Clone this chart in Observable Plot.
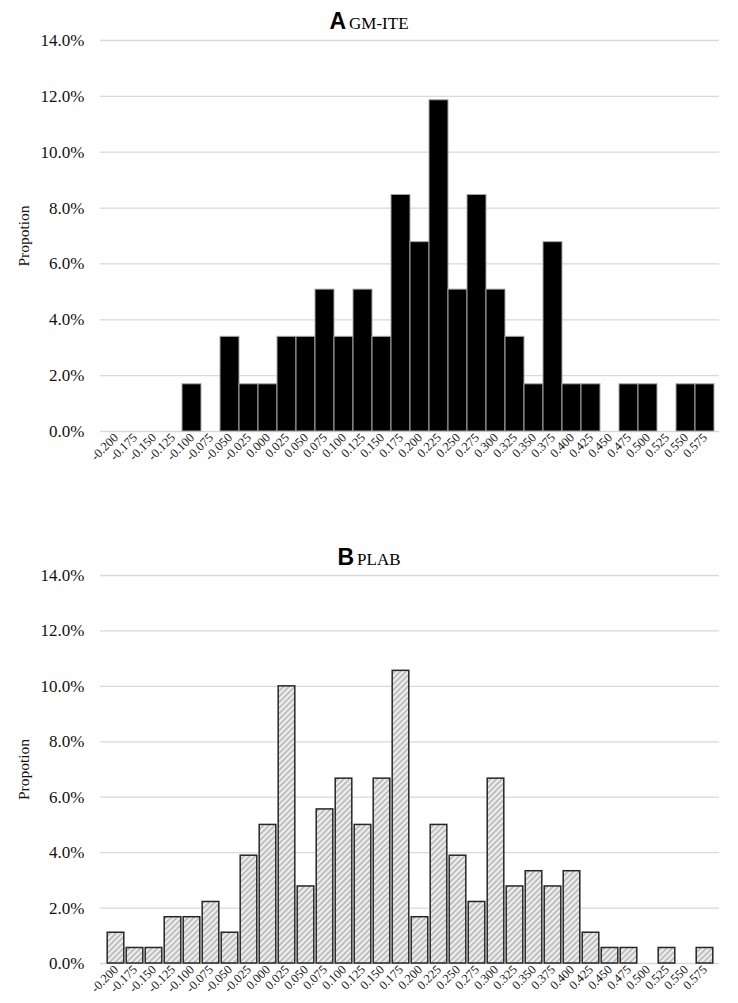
<!DOCTYPE html>
<html>
<head>
<meta charset="utf-8">
<script src="https://cdn.jsdelivr.net/npm/d3@7"></script>
<script src="https://cdn.jsdelivr.net/npm/@observablehq/plot@0.6"></script>
<style>
  html, body { margin: 0; padding: 0; background: #fff; }
  body { width: 738px; height: 1003px; position: relative; overflow: hidden; }
  .title { position: absolute; left: 0; width: 738px; text-align: center; color: #000; white-space: nowrap; }
  .title .letter { font-family: "Liberation Sans", Arial, sans-serif; font-weight: bold; font-size: 23px; }
  .title .name { font-family: "Liberation Serif", "Times New Roman", serif; font-size: 17px; margin-left: 3px; }
  .chart { position: absolute; left: 0; }
  .chart svg, .chart svg text { font-family: "Liberation Serif", "Times New Roman", serif !important; }
  .chart g[aria-label="y-axis tick label"] { font-size: 17px !important; }
  .chart g[aria-label="y-axis label"] { font-size: 15.5px !important; }
  .chart g[aria-label="x-axis tick label"] { font-size: 12.5px !important; }
</style>
</head>
<body>
<div class="title" id="titleA" style="top:8px;"><span class="letter">A</span><span class="name">GM-ITE</span></div>
<div class="chart" id="chartA" style="top:32px;"></div>
<div class="title" id="titleB" style="top:544px;"><span class="letter">B</span><span class="name">PLAB</span></div>
<div class="chart" id="chartB" style="top:567px;"></div>
<script>
// Bin labels (score bins)
const bins = ["-0.200","-0.175","-0.150","-0.125","-0.100","-0.075","-0.050","-0.025","0.000","0.025","0.050","0.075","0.100","0.125","0.150","0.175","0.200","0.225","0.250","0.275","0.300","0.325","0.350","0.375","0.400","0.425","0.450","0.475","0.500","0.525","0.550","0.575"];

// Panel A: GM-ITE proportions (%)
const gmIte = [0,0,0,0,1.69,0,3.39,1.69,1.69,3.39,3.39,5.08,3.39,5.08,3.39,8.47,6.78,11.86,5.08,8.47,5.08,3.39,1.69,6.78,1.69,1.69,0,1.69,1.69,0,1.69,1.69];

// Panel B: PLAB proportions (%)
const plab = [1.11,0.56,0.56,1.67,1.67,2.22,1.11,3.89,5.00,10.00,2.78,5.56,6.67,5.00,6.67,10.56,1.67,5.00,3.89,2.22,6.67,2.78,3.33,2.78,3.33,1.11,0.56,0.56,0,0.56,0,0.56];

const yTicks = [0,2,4,6,8,10,12,14];

function makeChart(values, opts) {
  const data = bins.map((b, i) => ({bin: b, value: values[i]}));
  const marks = [
    Plot.ruleY(yTicks, {stroke: "#d9d9d9", strokeWidth: 1.3}),
    Plot.barY(data, {
      x: "bin", y: "value",
      fill: opts.fill, stroke: opts.stroke, strokeWidth: opts.strokeWidth,
      insetLeft: opts.inset, insetRight: opts.inset
    }),
    Plot.axisY({
      ticks: yTicks, tickSize: 0, tickPadding: 16,
      tickFormat: d => d.toFixed(1) + "%",
      fontSize: 17,
      label: "Propotion", labelAnchor: "center", labelArrow: "none", labelOffset: 83
    }),
    Plot.axisX({
      tickSize: 0, tickRotate: -45, tickPadding: 4, fontSize: 12.5, label: null
    })
  ];
  if (opts.defs) marks.unshift(opts.defs);
  return Plot.plot({
    width: 738,
    height: opts.height,
    marginLeft: 100,
    marginRight: 19,
    marginTop: opts.marginTop,
    marginBottom: opts.marginBottom,
    style: {fontFamily: "'Liberation Serif', 'Times New Roman', serif", color: "#111", background: "transparent"},
    x: {type: "band", domain: bins, padding: 0},
    y: {domain: [0, 14]},
    marks
  });
}

const hatchDefs = () => {
  const defs = d3.create("svg:defs");
  const p = defs.append("pattern")
    .attr("id", "hatchB")
    .attr("patternUnits", "userSpaceOnUse")
    .attr("width", 4).attr("height", 4)
    .attr("patternTransform", "rotate(45)");
  p.append("rect").attr("width", 4).attr("height", 4).attr("fill", "#efefef");
  p.append("line").attr("x1", 1).attr("y1", 0).attr("x2", 1).attr("y2", 4)
    .attr("stroke", "#b3b3b3").attr("stroke-width", 1.6);
  return defs.node();
};

document.getElementById("chartA").append(makeChart(gmIte, {
  fill: "#000", stroke: "#a6a6a6", strokeWidth: 1, inset: 0,
  height: 449, marginTop: 8, marginBottom: 50
}));

document.getElementById("chartB").append(makeChart(plab, {
  fill: "url(#hatchB)", stroke: "#262626", strokeWidth: 1.5, inset: 1.2,
  height: 436, marginTop: 8, marginBottom: 40, defs: hatchDefs
}));
</script>
</body>
</html>
